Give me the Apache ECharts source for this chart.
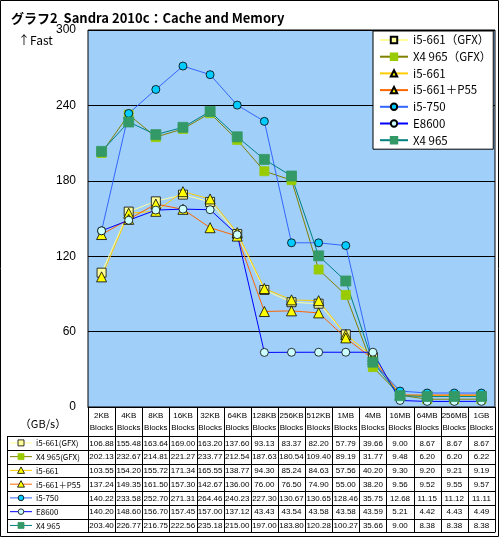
<!DOCTYPE html>
<html><head><meta charset="utf-8">
<script src="https://cdn.jsdelivr.net/npm/echarts/dist/echarts.min.js"></script>
<style>html,body{margin:0;padding:0;background:#fff}#c{width:500px;height:541px}</style>
</head><body><div id="c"></div>
<script>
// ---- data ----
const categories = ['2KB','4KB','8KB','16KB','32KB','64KB','128KB','256KB','512KB','1MB','4MB','16MB','64MB','256MB','1GB'];
const seriesNames = ['i5-661（GFX）','X4 965（GFX）','i5-661','i5-661＋P55','i5-750','E8600','X4 965'];
const tableLabels = ['i5-661(GFX)','X4 965(GFX)','i5-661','i5-661＋P55','i5-750','E8600','X4 965'];
const yMin = 0, yMax = 300, yInterval = 60;
const i5661gfx = [106.88,155.48,163.64,169.00,163.20,137.60,93.13,83.37,82.20,57.79,39.66,9.00,8.67,8.67,8.67];
const x4965gfx = [202.13,232.67,214.81,221.27,233.77,212.54,187.63,180.54,109.40,89.19,31.77,9.48,6.20,6.20,6.22];
const i5661    = [103.55,154.20,155.72,171.34,165.55,138.77,94.30,85.24,84.63,57.56,40.20,9.30,9.20,9.21,9.19];
const i5661p55 = [137.24,149.35,161.50,157.30,142.67,136.00,76.00,76.50,74.90,55.00,38.20,9.56,9.52,9.55,9.57];
const i5750    = [140.22,233.58,252.70,271.31,264.46,240.23,227.30,130.67,130.65,128.46,35.75,12.68,11.15,11.12,11.11];
const e8600    = [140.20,148.60,156.70,157.45,157.00,137.12,43.43,43.54,43.58,43.58,43.59,5.21,4.42,4.43,4.49];
const x4965    = [203.40,226.77,216.75,222.56,235.18,215.00,197.00,183.80,120.28,100.27,35.66,9.00,8.38,8.38,8.38];
const allData = [i5661gfx, x4965gfx, i5661, i5661p55, i5750, e8600, x4965];

// ---- styles ----
const styles = [
  {line:'#FFFF99', symbol:'rect',     size:9,  fill:'#FFFF99', border:'#000'},
  {line:'#808000', symbol:'rect',     size:9,  fill:'#99CC00', border:'#99CC00'},
  {line:'#FFCC00', symbol:'triangle', size:10, fill:'#FFFF00', border:'#000'},
  {line:'#FF6600', symbol:'triangle', size:10, fill:'#FFFF00', border:'#000'},
  {line:'#3366FF', symbol:'circle',   size:8,  fill:'#00CCFF', border:'#000'},
  {line:'#0000FF', symbol:'circle',   size:8,  fill:'#CCFFFF', border:'#000'},
  {line:'#008080', symbol:'rect',     size:10, fill:'#339966', border:'#339966'}
];

const chart = echarts.init(document.getElementById('c'), null, {renderer:'canvas'});
const gridL = 88, gridR = 5, gridT = 30, gridB = 134;

const option = {
  animation: false,
  backgroundColor: '#fff',
  title: {
    text: 'グラフ2  Sandra 2010c：Cache and Memory',
    left: 6, top: 7,
    textStyle: {fontSize: 13, fontWeight: 'bold', color: '#000', fontFamily: '"Noto Sans CJK JP"'}
  },
  legend: {
    orient: 'vertical',
    left: 373, top: 31,
    backgroundColor: '#fff', borderColor: '#000', borderWidth: 1,
    padding: [2, 2, 2, 6],
    itemWidth: 28, itemHeight: 8, itemGap: 2.7,
    textStyle: {fontSize: 11.5, lineHeight: 14, color: '#000', fontFamily: '"Noto Sans CJK JP"'},
    data: seriesNames
  },
  grid: {
    left: gridL, right: gridR, top: gridT, bottom: gridB,
    show: true, backgroundColor: '#A0CFFA', borderColor: '#000', borderWidth: 1
  },
  xAxis: {
    type: 'category', data: categories, boundaryGap: true,
    axisLine: {lineStyle: {color: '#000'}},
    axisTick: {show: false},
    axisLabel: {
      interval: 0, margin: 3, fontSize: 8, lineHeight: 12, color: '#000',
      fontFamily: '"Liberation Sans"',
      formatter: v => v + '\nBlocks'
    }
  },
  yAxis: {
    type: 'value', min: yMin, max: yMax, interval: yInterval,
    axisLine: {show: false}, axisTick: {show: false},
    axisLabel: {margin: 12, fontSize: 12, color: '#000', fontFamily: '"Liberation Sans"'},
    splitLine: {lineStyle: {color: '#000', width: 1}}
  },
  series: seriesNames.map((n, i) => ({
    name: n, type: 'line', data: allData[i],
    symbol: styles[i].symbol, symbolSize: styles[i].size,
    lineStyle: {color: styles[i].line, width: 1},
    itemStyle: {color: styles[i].fill, borderColor: styles[i].border, borderWidth: 0.8},
    emphasis: {disabled: true}
  }))
};
chart.setOption(option);

// ---- data table ----
const colW = (500 - gridL - gridR) / categories.length;
const tableTop = 541 - gridB;      // 407
const headerBottom = 436;
const rowH = 13.76;
const tableBottom = headerBottom + rowH * seriesNames.length;
const tableLeft = 7, tableRight = 500 - gridR;
const g = [];
const ln = (x1, y1, x2, y2, c, w) => ({type:'line', silent:true, shape:{x1, y1, x2, y2}, style:{stroke:c || '#000', lineWidth:w || 1}});
// outer frame
g.push({type:'rect', silent:true, shape:{x:0.5, y:0.5, width:498, height:536}, style:{fill:null, stroke:'#000', lineWidth:1}});
// row lines
for (let r = 0; r <= seriesNames.length; r++) {
  const y = Math.round(headerBottom + r * rowH) + 0.5;
  g.push(ln(tableLeft, y, tableRight, y));
}
g.push(ln(tableLeft + 0.5, headerBottom, tableLeft + 0.5, tableBottom));
for (let k = 0; k <= categories.length; k++) {
  const x = Math.round(gridL + k * colW) + 0.5;
  g.push(ln(x, tableTop, x, tableBottom));
}
// cells
allData.forEach((arr, r) => {
  const y = headerBottom + (r + 0.5) * rowH;
  arr.forEach((v, i) => {
    const x = chart.convertToPixel({xAxisIndex: 0}, i);
    g.push({type:'text', silent:true, x: x, y: y + 0.5,
      style:{text: v.toFixed(2), fill:'#000', font:'8px "Liberation Sans"', align:'center', verticalAlign:'middle'}});
  });
  // row label icon
  const s = styles[r];
  g.push(ln(10, y, 32, y, s.line, 1));
  const mx = 21;
  if (s.symbol === 'rect') {
    g.push({type:'rect', silent:true, shape:{x: mx - 3, y: y - 3, width: 6, height: 6}, style:{fill:s.fill, stroke:s.border, lineWidth:0.8}});
  } else if (s.symbol === 'triangle') {
    g.push({type:'polygon', silent:true, shape:{points:[[mx, y - 3.5],[mx + 3.5, y + 3],[mx - 3.5, y + 3]]}, style:{fill:s.fill, stroke:s.border, lineWidth:0.8}});
  } else {
    g.push({type:'circle', silent:true, shape:{cx: mx, cy: y, r: 2.8}, style:{fill:s.fill, stroke:s.border, lineWidth:0.8}});
  }
  g.push({type:'text', silent:true, x: 36, y: y + 0.5,
    style:{text: tableLabels[r], fill:'#000', font:'8px "Noto Sans CJK JP"', align:'left', verticalAlign:'middle'}});
});
// extra texts
g.push({type:'text', silent:true, x: 18, y: 40, style:{text:'↑Fast', fill:'#000', font:'12px "Noto Sans CJK JP"', align:'left', verticalAlign:'middle'}});
g.push({type:'text', silent:true, x: 43, y: 424, style:{text:'（GB/s）', fill:'#000', font:'11px "Noto Sans CJK JP"', align:'center', verticalAlign:'middle'}});
chart.setOption({graphic: g});
</script>
</body></html>
